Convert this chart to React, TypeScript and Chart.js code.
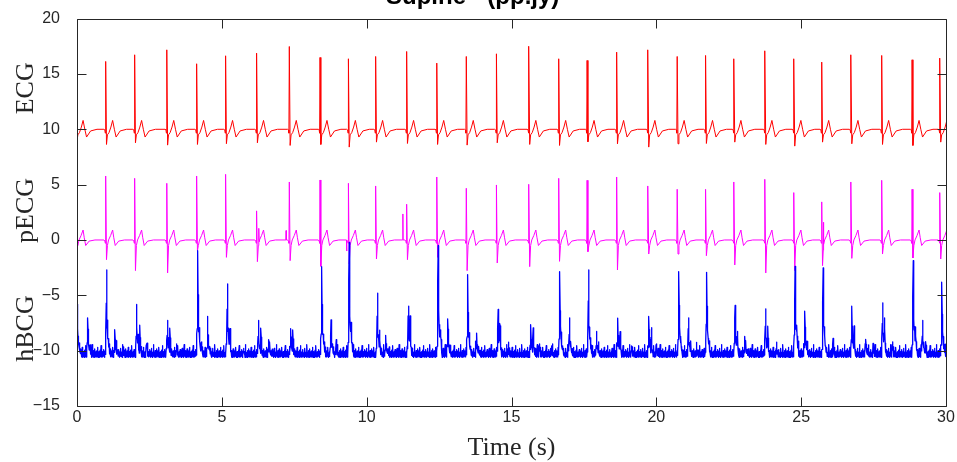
import { useEffect, useRef } from "react";
import { Chart, registerables } from "chart.js";

Chart.register(...registerables);

// ---- axes ----
const X_MIN = 0;
const X_MAX = 30;
const X_STEP = 5;
const Y_MIN = -15;
const Y_MAX = 20;
const Y_STEP = 5;

const TITLE = "Supine - (pp.jy)";
const X_LABEL = "Time (s)";
const TRACE_LABELS = ["ECG", "pECG", "hBCG"];
const TRACE_LABEL_LEVELS = [13.7, 2.67, -8.0];

// ---- heartbeats (R-peak times, s) ----
const beatTimes = [
  -0.03, 0.99, 1.99, 3.1, 4.13, 5.13, 6.2, 7.33, 8.39, 9.37, 10.31, 11.38, 12.42, 13.44, 14.48,
  15.6, 16.63, 17.61, 18.63, 19.71, 20.72, 21.7, 22.68, 23.75, 24.75, 25.71, 26.72, 27.78, 28.83, 29.79,
];

// ---- ECG (offset +10) ----
const ECG_BASE = 10;
const ecgPeaks = [
  16.0, 16.13, 16.73, 17.18, 15.92, 16.64, 16.88, 17.48, 16.49, 16.37, 16.58, 17.03, 15.98, 16.58, 16.82,
  17.5, 16.37, 16.22, 16.97, 17.18, 16.58, 16.67, 16.37, 17.09, 16.37, 16.07, 16.73, 16.67, 16.28, 16.43,
];
const ecgTroughs = [
  8.9, 8.63, 8.78, 8.57, 8.63, 8.7, 8.78, 8.54, 8.63, 8.39, 8.84, 8.72, 8.63, 8.57, 8.78,
  8.63, 8.54, 8.87, 8.69, 8.39, 8.69, 8.72, 8.84, 8.63, 8.48, 8.84, 8.69, 8.63, 8.54, 8.84,
];
const ecgPreOffsets = [-0.06, -0.03, -0.014];
const ecgPreLevels = [0, -0.05, -0.35];
const ecgPostOffsets = [0.06, 0.115, 0.18, 0.24, 0.3, 0.36, 0.5, 0.72];
const ecgPostLevels = [-0.5, -0.3, 0.2, 0.8, 0.0, -0.7, -0.15, 0];

// ---- pECG (offset 0) ----
const PECG_BASE = 0;
const pecgPeaks = [
  5.5, 5.78, 5.57, 5.12, 5.78, 5.93, 2.63, 5.24, 5.42, 5.12, 4.88, 3.23, 5.69, 4.67, 4.97,
  5.03, 5.57, 5.39, 5.69, 4.88, 4.58, 4.58, 5.24, 5.48, 4.28, 3.44, 5.24, 5.39, 4.58, 4.28,
];
const pecgTroughs = [
  -0.1, -1.78, -2.77, -2.98, -0.97, -1.57, -1.96, -1.87, -2.38, -2.17, -1.72, -1.78, -1.57, -2.77, -2.08,
  -2.41, -1.93, -1.06, -2.71, -1.27, -1.27, -1.42, -2.26, -2.98, -2.77, -2.32, -1.66, -1.27, -1.63, -1.72,
];
const pecgPreOffsets = [-0.06, -0.03, -0.012];
const pecgPreLevels = [0, -0.1, -0.3];
const pecgPostOffsets = [0.06, 0.1, 0.17, 0.24, 0.28, 0.33, 0.45, 0.65];
const pecgPostLevels = [-0.5, 0.0, 0.4, 0.9, 0.2, -0.5, -0.1, 0];
const S_OFFSET = 0.028;

// extra artefact spikes on pECG
const pecgExtraTimes = [6.28, 7.22, 9.31, 11.25, 25.77];
const pecgExtraHeights = [1.3, 0.85, -1.0, 2.35, 2.1];
const spikeOffsets = [-0.008, 0, 0.008];
const spikeWeights = [0, 1, 0];

// ---- hBCG (offset -10) ----
const HBCG_BASE = -10.3;
const hbcgMainTimes = [
  0.02, 1.02, 2.06, 3.12, 4.17, 5.19, 6.26, 7.38, 8.45, 9.4, 10.37, 11.44, 12.47, 13.49, 14.54,
  15.67, 16.67, 17.66, 18.67, 19.74, 20.78, 21.74, 22.72, 23.77, 24.79, 25.76, 26.75, 27.81, 28.87, 29.86,
];
const hbcgMainPeaks = [
  -5.8, -2.71, -5.83, -7.27, -0.97, -3.97, -7.27, -8.02, -2.41, -0.22, -4.81, -5.98, -0.52, -3.13, -6.28,
  -7.66, -2.86, -2.71, -7.06, -6.91, -2.86, -2.92, -5.92, -6.22, -2.38, -2.53, -5.98, -5.68, -1.87, -3.82,
];
const hbcgLateTimes = [0.37, 1.31, 4.51, 6.62, 8.77, 10.66, 12.8, 13.8, 17.0, 17.94, 21.11, 23.06, 25.13, 27.23, 29.19];
const hbcgLatePeaks = [-7.03, -8.11, -6.91, -9.01, -7.21, -8.62, -7.12, -8.41, -7.03, -8.26, -7.03, -8.71, -6.43, -8.98, -7.27];
const hbcgMinorTimes = [
  1.6, 2.17, 2.4, 3.21, 3.43, 4.3, 5.28, 5.75, 6.35, 7.45, 8.95, 9.47, 10.45, 11.5, 12.55, 14.6, 14.89, 15.75,
  15.96, 16.38, 18.75, 19.15, 19.83, 20.0, 21.39, 22.8, 23.85, 24.15, 24.85, 26.1, 26.83, 27.49, 27.88, 28.15, 28.95, 29.3,
];
const hbcgMinorPeaks = [
  -9.67, -7.88, -9.37, -8.2, -9.4, -9.2, -8.6, -9.8, -8.2, -8.4, -9.0, -8.9, -8.7, -7.57, -9.1, -8.2, -9.23, -8.2,
  -9.4, -9.57, -8.6, -9.57, -8.2, -9.4, -9.4, -8.7, -8.2, -9.23, -9.0, -8.9, -8.2, -9.4, -7.6, -9.2, -8.7, -9.3,
];
const peakOffsets = [-0.05, -0.02, 0, 0.015, 0.04, 0.07, 0.13];
const peakWeights = [0, 0.25, 1, 0.35, 0.25, 0.12, 0];
const minorOffsets = [-0.02, 0, 0.02, 0.05];
const minorWeights = [0, 1, 0.25, 0];

// sensor noise on the hBCG channel, 100 samples per second
const HBCG_RATE = 100;
const hbcgNoise = [
  0.02, -0.2, 0.15, -0.28, -0.05, 0.3, -0.12, -0.3, 0.08, 0.45, -0.1, -0.25, 0.18, -0.15, 0.28, -0.27, 0.05, -0.2,
  0.6, -0.08, -0.3, 0.12, -0.22, 0.22, -0.12, -0.3, 0.06, 0.35, -0.24, -0.02, 0.75, -0.18, -0.28, 0.14, -0.06, 0.2,
  -0.26, 0.03, 0.4, -0.2, -0.1, 0.1, -0.3, 0.25, -0.04, 0.5, -0.22, 0.07, -0.15, 0.16, -0.3, 0.0, 0.85,
];

type Knot = [number, number];
type Bump = { t0: number; knots: Knot[] };
type Pt = { x: number; y: number };

function knotValue(knots: Knot[], dt: number): number {
  if (dt <= knots[0][0] || dt >= knots[knots.length - 1][0]) return 0;
  for (let i = 1; i < knots.length; i++) {
    if (dt <= knots[i][0]) {
      const [x0, y0] = knots[i - 1];
      const [x1, y1] = knots[i];
      return y0 + ((y1 - y0) * (dt - x0)) / (x1 - x0);
    }
  }
  return 0;
}

function beatBumps(
  base: number,
  peaks: number[],
  troughs: number[],
  preOff: number[],
  preLev: number[],
  postOff: number[],
  postLev: number[]
): Bump[] {
  return beatTimes.map((t0, i) => {
    const knots: Knot[] = [];
    preOff.forEach((o, j) => knots.push([o, preLev[j]]));
    knots.push([0, peaks[i] - base]);
    knots.push([S_OFFSET, troughs[i] - base]);
    postOff.forEach((o, j) => knots.push([o, postLev[j]]));
    return { t0, knots };
  });
}

function scaledBumps(times: number[], heights: number[], offs: number[], weights: number[]): Bump[] {
  return times.map((t0, i) => ({
    t0,
    knots: offs.map((o, j) => [o, weights[j] * heights[i]] as Knot),
  }));
}

const key = (t: number) => Math.round(t * 10000) / 10000;

function sumAt(bumps: Bump[], t: number) {
  let s = 0;
  for (const b of bumps) {
    const dt = t - b.t0;
    if (dt > -0.2 && dt < 0.8) s += knotValue(b.knots, dt);
  }
  return s;
}

function buildTrace(base: number, bumps: Bump[]): Pt[] {
  const times = new Set<number>();
  bumps.forEach((b) => b.knots.forEach((k) => times.add(key(b.t0 + k[0]))));
  return [...times].sort((a, b) => a - b).map((t) => ({ x: t, y: base + sumAt(bumps, t) }));
}

function buildHbcg(): Pt[] {
  const bumps = [
    ...scaledBumps(hbcgMainTimes, hbcgMainPeaks.map((v) => v - HBCG_BASE), peakOffsets, peakWeights),
    ...scaledBumps(hbcgLateTimes, hbcgLatePeaks.map((v) => v - HBCG_BASE), peakOffsets, peakWeights),
    ...scaledBumps(hbcgMinorTimes, hbcgMinorPeaks.map((v) => v - HBCG_BASE), minorOffsets, minorWeights),
  ];
  const peakTimes = new Set<number>();
  [...hbcgMainTimes, ...hbcgLateTimes, ...hbcgMinorTimes].forEach((t) => peakTimes.add(key(t)));
  const times = new Set<number>();
  for (let k = 0; k <= X_MAX * HBCG_RATE; k++) times.add(key(k / HBCG_RATE));
  bumps.forEach((b) => b.knots.forEach((kn) => times.add(key(b.t0 + kn[0]))));
  return [...times]
    .sort((a, b) => a - b)
    .map((t) => {
      const idx = Math.max(0, Math.round(t * HBCG_RATE));
      const n = peakTimes.has(t) ? 0 : hbcgNoise[idx % hbcgNoise.length];
      return { x: t, y: HBCG_BASE + n + sumAt(bumps, t) };
    });
}

const INK = "#262626";
const SANS = '"Liberation Sans", Arial, Helvetica, sans-serif';
const SERIF = '"Liberation Serif", "Times New Roman", serif';

const framePlugin = {
  id: "matlabFrame",
  afterDraw(chart: any) {
    const { ctx, chartArea, scales } = chart;
    const { left, right, top, bottom } = chartArea;
    const xs = scales.x;
    const ys = scales.y;
    const L = Math.round(left) + 0.5;
    const R = Math.round(right) + 0.5;
    const T = Math.round(top) + 0.5;
    const B = Math.round(bottom) + 0.5;
    const tick = 9;
    ctx.save();
    ctx.strokeStyle = INK;
    ctx.lineWidth = 1;
    ctx.beginPath();
    ctx.rect(L, T, R - L, B - T);
    for (let v = X_MIN; v <= X_MAX; v += X_STEP) {
      const px = Math.round(xs.getPixelForValue(v)) + 0.5;
      ctx.moveTo(px, B);
      ctx.lineTo(px, B - tick);
      ctx.moveTo(px, T);
      ctx.lineTo(px, T + tick);
    }
    for (let v = Y_MIN; v <= Y_MAX; v += Y_STEP) {
      const py = Math.round(ys.getPixelForValue(v)) + 0.5;
      ctx.moveTo(L, py);
      ctx.lineTo(L + tick, py);
      ctx.moveTo(R, py);
      ctx.lineTo(R - tick, py);
    }
    ctx.stroke();

    // trace names on the left
    ctx.fillStyle = INK;
    ctx.font = `26px ${SERIF}`;
    ctx.textAlign = "center";
    ctx.textBaseline = "alphabetic";
    TRACE_LABELS.forEach((name, i) => {
      const py = ys.getPixelForValue(TRACE_LABEL_LEVELS[i]);
      ctx.save();
      ctx.translate(33, py);
      ctx.rotate(-Math.PI / 2);
      ctx.fillText(name, 0, 0);
      ctx.restore();
    });

    // x-axis title
    ctx.fillText(X_LABEL, (left + right) / 2, 455);

    // figure title
    ctx.fillStyle = "#000";
    ctx.font = `bold 24px ${SANS}`;
    ctx.textAlign = "left";
    ctx.fillText(TITLE, 386, 4);
    ctx.restore();
  },
};

export default function App() {
  const canvasRef = useRef<HTMLCanvasElement | null>(null);

  useEffect(() => {
    const canvas = canvasRef.current;
    if (!canvas) return;
    const ecg = buildTrace(ECG_BASE, beatBumps(ECG_BASE, ecgPeaks, ecgTroughs, ecgPreOffsets, ecgPreLevels, ecgPostOffsets, ecgPostLevels));
    const pecg = buildTrace(PECG_BASE, [
      ...beatBumps(PECG_BASE, pecgPeaks, pecgTroughs, pecgPreOffsets, pecgPreLevels, pecgPostOffsets, pecgPostLevels),
      ...scaledBumps(pecgExtraTimes, pecgExtraHeights, spikeOffsets, spikeWeights),
    ]);
    const hbcg = buildHbcg();

    const line = {
      borderWidth: 1,
      pointRadius: 0,
      borderJoinStyle: "round" as const,
      fill: false,
      tension: 0,
    };

    const chart = new Chart(canvas, {
      type: "line",
      data: {
        datasets: [
          { ...line, label: "hBCG", data: hbcg, borderColor: "#0000ff", borderWidth: 1.3, order: 0 },
          { ...line, label: "pECG", data: pecg, borderColor: "#ff00ff", order: 1 },
          { ...line, label: "ECG", data: ecg, borderColor: "#ff0000", order: 2 },
        ],
      },
      options: {
        responsive: false,
        animation: false,
        parsing: false,
        normalized: true,
        events: [],
        layout: { padding: { top: 17, right: 11, left: 0, bottom: 0 } },
        plugins: {
          legend: { display: false },
          tooltip: { enabled: false },
          title: { display: false },
        },
        scales: {
          x: {
            type: "linear",
            min: X_MIN,
            max: X_MAX,
            grid: { display: false },
            border: { display: false },
            ticks: {
              stepSize: X_STEP,
              autoSkip: false,
              maxRotation: 0,
              padding: -6,
              color: INK,
              font: { family: SANS, size: 16 },
            },
            afterFit: (s: any) => {
              s.height = 56;
            },
          },
          y: {
            type: "linear",
            min: Y_MIN,
            max: Y_MAX,
            grid: { display: false },
            border: { display: false },
            ticks: {
              stepSize: Y_STEP,
              padding: 9,
              color: INK,
              font: { family: SANS, size: 16 },
              callback: (v: any) => String(v).replace("-", "\u2212"),
            },
            afterFit: (s: any) => {
              s.width = 77;
            },
          },
        },
      },
      plugins: [framePlugin],
    } as any);

    return () => chart.destroy();
  }, []);

  return (
    <div style={{ position: "absolute", left: 0, top: 0, width: 957, height: 462, background: "#fff" }}>
      <canvas ref={canvasRef} width={957} height={462} style={{ display: "block", width: 957, height: 462 }} />
    </div>
  );
}
